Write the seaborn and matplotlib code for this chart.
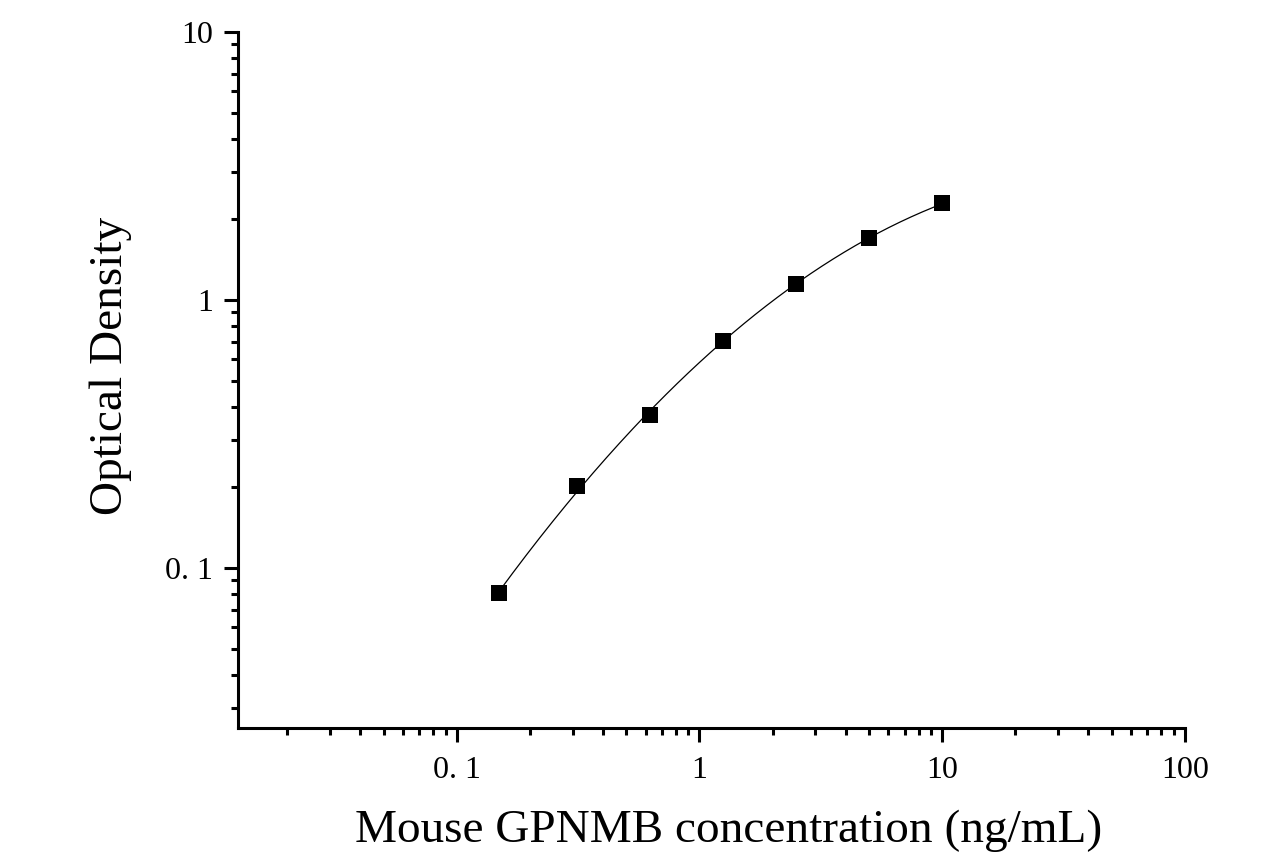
import numpy as np
import pandas as pd
import matplotlib
matplotlib.use("Agg")
import matplotlib.pyplot as plt
import seaborn as sns
from matplotlib.ticker import LogLocator, NullFormatter

# standard curve readings
conc = [0.15, 0.3125, 0.625, 1.25, 2.5, 5, 10]
od = [0.0804, 0.2022, 0.3725, 0.705, 1.147, 1.699, 2.296]

x_ticks = [0.1, 1, 10, 100]
x_labels = ["0. 1", "1", "10", "100"]
y_ticks = [0.1, 1, 10]
y_labels = ["0. 1", "1", "10"]

df = pd.DataFrame({"conc": conc, "od": od})

# smooth fitted curve in log-log space (quadratic)
coef = np.polyfit(np.log10(df["conc"]), np.log10(df["od"]), 2)
xs = np.logspace(np.log10(min(conc)), np.log10(max(conc)), 200)
fit = pd.DataFrame({"conc": xs, "od": 10 ** np.polyval(coef, np.log10(xs))})

sns.set_style("ticks")
plt.rcParams["font.family"] = ["Liberation Serif", "DejaVu Serif"]
plt.rcParams["text.color"] = "black"
plt.rcParams["axes.labelcolor"] = "black"

fig = plt.figure(figsize=(12.63, 8.66), dpi=100)
ax = fig.add_axes([0.1884, 0.1594, 0.7498, 0.8036])

sns.lineplot(data=fit, x="conc", y="od", ax=ax, color="black", linewidth=0.9)
sns.scatterplot(data=df, x="conc", y="od", ax=ax, marker="s", s=135,
                color="black", edgecolor="black", linewidth=0, zorder=3)

ax.set_xscale("log")
ax.set_yscale("log")
ax.set_xlim(0.01256, 100)
ax.set_ylim(0.0253, 10)

ax.set_xticks(x_ticks)
ax.set_xticklabels(x_labels)
ax.set_yticks(y_ticks)
ax.set_yticklabels(y_labels)
ax.xaxis.set_minor_locator(LogLocator(base=10, subs=np.arange(2, 10)))
ax.yaxis.set_minor_locator(LogLocator(base=10, subs=np.arange(2, 10)))
ax.xaxis.set_minor_formatter(NullFormatter())
ax.yaxis.set_minor_formatter(NullFormatter())

ax.tick_params(which="major", direction="out", length=10, width=2.2,
               labelsize=23, colors="black", pad=8)
ax.tick_params(which="minor", direction="out", length=5, width=2.2,
               colors="black")
ax.tick_params(axis="x", which="major", pad=10)

sns.despine(ax=ax)
for s in ["left", "bottom"]:
    ax.spines[s].set_linewidth(2.2)
    ax.spines[s].set_color("black")

ax.set_xlabel("Mouse GPNMB concentration (ng/mL)", fontsize=34)
ax.set_ylabel("Optical Density", fontsize=34)
ax.xaxis.set_label_coords(0.518, -0.117)
ax.yaxis.set_label_coords(-0.112, 0.52)

fig.savefig("out.png", dpi=100)
